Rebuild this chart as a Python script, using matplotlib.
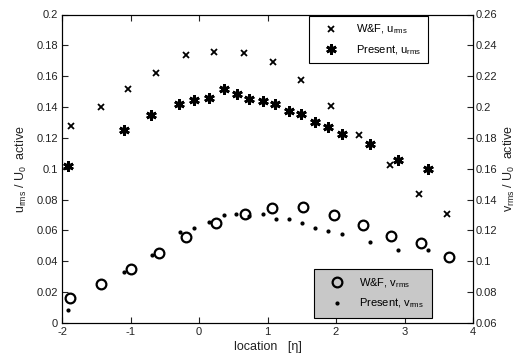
import matplotlib
matplotlib.use("Agg")
import matplotlib.pyplot as plt
from matplotlib.ticker import FuncFormatter

plt.rcParams['font.family'] = ['Liberation Sans', 'DejaVu Sans']
plt.rcParams['mathtext.fontset'] = 'custom'
plt.rcParams['mathtext.rm'] = 'Liberation Sans'
plt.rcParams['mathtext.it'] = 'Liberation Sans'
plt.rcParams['axes.unicode_minus'] = False

# W&F u_rms (left axis)
wf_u_x = [-1.87, -1.435, -1.036, -0.632, -0.19, 0.219, 0.657, 1.076, 1.485, 1.927, 2.34, 2.788, 3.207, 3.625]
wf_u_y = [0.128, 0.140, 0.152, 0.162, 0.1736, 0.176, 0.175, 0.1695, 0.1576, 0.1407, 0.1219, 0.1025, 0.0834, 0.0705]

# Present u_rms (left axis)
pr_u_x = [-1.91, -1.10, -0.696, -0.288, -0.069, 0.146, 0.37, 0.55, 0.734, 0.94, 1.115, 1.314, 1.494, 1.693, 1.878, 2.092, 2.50, 2.91, 3.347]
pr_u_y = [0.102, 0.125, 0.1347, 0.142, 0.1444, 0.1459, 0.1515, 0.1487, 0.1455, 0.144, 0.142, 0.1375, 0.1353, 0.130, 0.127, 0.1224, 0.116, 0.1055, 0.0999]

# W&F v_rms (right axis)
wf_v_x = [-1.879, -1.431, -0.993, -0.584, -0.185, 0.253, 0.676, 1.07, 1.514, 1.966, 2.39, 2.807, 3.245, 3.65]
wf_v_y = [0.076, 0.0851, 0.0948, 0.1056, 0.116, 0.1248, 0.1309, 0.1346, 0.135, 0.1302, 0.1236, 0.1166, 0.1121, 0.103]

# Present v_rms (right axis)
pr_v_x = [-1.917, -1.10, -0.69, -0.282, -0.069, 0.15, 0.37, 0.545, 0.735, 0.934, 1.124, 1.314, 1.504, 1.698, 1.878, 2.092, 2.50, 2.91, 3.347]
pr_v_y = [0.0684, 0.0933, 0.1039, 0.1188, 0.1214, 0.1253, 0.130, 0.1309, 0.1296, 0.1305, 0.1274, 0.1274, 0.1246, 0.1218, 0.1199, 0.1177, 0.1125, 0.1073, 0.1073]

x_ticks = [-2, -1, 0, 1, 2, 3, 4]
left_ticks = [0, 0.02, 0.04, 0.06, 0.08, 0.1, 0.12, 0.14, 0.16, 0.18, 0.2]
right_ticks = [0.06, 0.08, 0.1, 0.12, 0.14, 0.16, 0.18, 0.2, 0.22, 0.24, 0.26]

fig = plt.figure(figsize=(5.23, 3.62), dpi=100)
ax = fig.add_axes([62/523, 39/362, 411/523, 308.5/362])
ax2 = ax.twinx()

fs = 8
asterisk = (6, 2, 0)

h1, = ax.plot(wf_u_x, wf_u_y, linestyle='none', marker='x', ms=5, mew=1.3, color='black', label='W&F, u$_{\\mathrm{rms}}$')
h2, = ax.plot(pr_u_x, pr_u_y, linestyle='none', marker=asterisk, ms=7.5, mew=2.0, color='black', label='Present, u$_{\\mathrm{rms}}$')
h3, = ax2.plot(wf_v_x, wf_v_y, linestyle='none', marker='o', ms=7, mew=1.6, mfc='none', color='black', label='W&F, v$_{\\mathrm{rms}}$')
h4, = ax2.plot(pr_v_x, pr_v_y, linestyle='none', marker='.', ms=4, color='black', label='Present, v$_{\\mathrm{rms}}$')

ax.set_xlim(-2, 4)
ax.set_ylim(0, 0.2)
ax2.set_ylim(0.06, 0.26)
ax.set_xticks(x_ticks)
ax.set_yticks(left_ticks)
ax2.set_yticks(right_ticks)
fmt = FuncFormatter(lambda v, p: '%g' % round(v, 4))
ax.xaxis.set_major_formatter(fmt)
ax.yaxis.set_major_formatter(fmt)
ax2.yaxis.set_major_formatter(fmt)

ax.tick_params(axis='x', direction='in', top=True, length=4, labelsize=fs, colors='#222222', pad=3)
ax.tick_params(axis='y', direction='in', length=4, labelsize=fs, colors='#222222', pad=3)
ax2.tick_params(axis='y', direction='in', length=4, labelsize=fs, colors='#222222', pad=2)
for a in (ax, ax2):
    for s in a.spines.values():
        s.set_linewidth(0.8)
        s.set_color('black')

ax.set_xlabel('location   [\u03b7]', fontsize=fs + 1, color='#222222', labelpad=3)
ax.set_ylabel('u$_{\\mathrm{rms}}$ / U$_{\\mathrm{0}}$  active', fontsize=fs + 1, color='#222222', labelpad=5)
ax2.set_ylabel('v$_{\\mathrm{rms}}$ / U$_{\\mathrm{0}}$  active', fontsize=fs + 1, color='#222222', labelpad=3, rotation=90)

leg1 = ax.legend(handles=[h1, h2], loc='upper right', bbox_to_anchor=(0.8905, 0.995), borderaxespad=0,
                 fontsize=fs, fancybox=False, edgecolor='black', framealpha=1, handlelength=2.8,
                 handletextpad=0.8, borderpad=0.6, labelspacing=0.6)
leg1.get_frame().set_linewidth(0.8)
leg2 = ax2.legend(handles=[h3, h4], loc='lower right', bbox_to_anchor=(0.900, 0.016), borderaxespad=0,
                  fontsize=fs, fancybox=False, edgecolor='black', facecolor='#c8c8c8', framealpha=1,
                  handlelength=2.8, handletextpad=0.6, borderpad=0.7, labelspacing=0.6)
leg2.get_frame().set_linewidth(0.8)

fig.savefig('out.png', dpi=100)
